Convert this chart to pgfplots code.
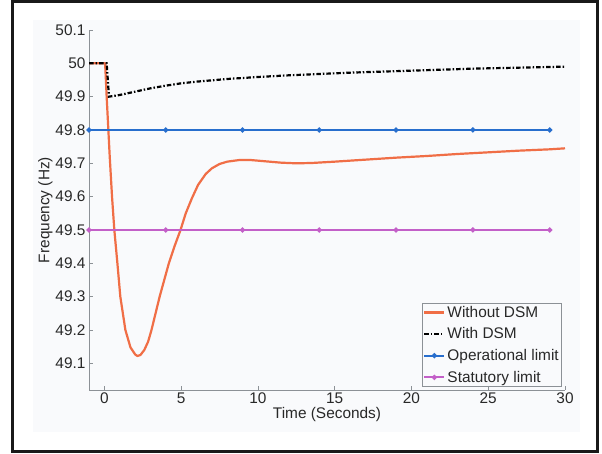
\documentclass[border=0pt]{standalone}
\usepackage{pgfplots}
\pgfplotsset{compat=1.18}
\usepackage{fontspec}
\setmainfont{Liberation Sans}
\definecolor{orangeline}{RGB}{240,110,70}
\definecolor{blueline}{RGB}{40,110,205}
\definecolor{magline}{RGB}{195,95,200}
\definecolor{panel}{RGB}{249,250,252}
\definecolor{axgray}{RGB}{140,145,150}
\definecolor{txt}{RGB}{40,40,40}
\begin{document}
\begin{tikzpicture}[x=1pt,y=1pt]
\useasboundingbox (0,0) rectangle (602,454);
\fill[white] (0,0) rectangle (602,454);
\fill[panel] (33,22) rectangle (580,434);
\draw[line width=3pt, black!90] (12.5,2.5) rectangle (597,452.5);
\begin{axis}[
  at={(89pt,64pt)}, anchor=south west,
  scale only axis, width=476pt, height=360pt,
  xmin=-1, xmax=30, ymin=49.02, ymax=50.1,
  axis x line*=bottom, axis y line*=left,
  axis line style={axgray, line width=0.8pt},
  tick style={axgray, line width=0.8pt},
  tick align=inside, major tick length=4pt,
  xtick={0,5,10,15,20,25,30},
  ytick={49.1,49.2,49.3,49.4,49.5,49.6,49.7,49.8,49.9,50,50.1},
  yticklabels={49.1,49.2,49.3,49.4,49.5,49.6,49.7,49.8,49.9,50,50.1},
  /pgf/number format/assume math mode=true,
  font=\fontsize{15.4}{18}\selectfont,
  tick label style={txt, font=\fontsize{15.4}{18}\selectfont},
  xticklabel style={yshift=1pt},
  xlabel={Time (Seconds)}, ylabel={Frequency (Hz)},
  label style={txt, font=\fontsize{15.4}{18}\selectfont},
  xlabel style={yshift=3pt},
  ylabel style={yshift=-4pt},
  legend cell align=left,
  legend style={at={(0.994,0.008)}, anchor=south east, draw=axgray, line width=0.8pt, fill=none,
    font=\fontsize{15.4}{17}\selectfont, text=txt, inner sep=1pt, row sep=5pt},
  legend image code/.code={\draw[mark repeat=2,mark phase=2,#1] plot coordinates {(0pt,0pt) (10pt,0pt) (20pt,0pt)};},
  clip=false,
]
\addplot[orangeline, line width=2.2pt, line join=round] coordinates {
(-1,50) (0.05,50) (0.15,49.9) (0.35,49.72) (0.5,49.6) (0.65,49.5) (0.85,49.4) (1.04,49.3)
(1.37,49.2) (1.7,49.148) (2.0,49.127) (2.15,49.122) (2.35,49.125) (2.6,49.14) (2.85,49.165)
(3.07,49.2) (3.6,49.3) (4.2,49.4) (4.6,49.455) (4.96,49.5) (5.3,49.55) (5.7,49.595)
(6.1,49.635) (6.6,49.668) (7.0,49.685) (7.5,49.698) (8.0,49.705) (8.8,49.71) (9.5,49.71)
(10.5,49.706) (11.5,49.702) (12.5,49.70) (13.5,49.701) (15,49.705) (17,49.711) (19,49.717)
(21,49.722) (23,49.728) (25,49.733) (27,49.738) (29,49.742) (30,49.745)};
\addlegendentry{Without DSM}
\addplot[black, line width=2.2pt, dash pattern=on 4.5pt off 2pt on 1.5pt off 2pt] coordinates {
(-1,50) (0.15,50) (0.3,49.9) (1,49.905) (2,49.915) (3,49.925) (4,49.933) (5,49.94)
(6,49.945) (8,49.953) (10,49.959) (12,49.964) (14,49.968) (16,49.972) (18,49.975)
(20,49.978) (22,49.981) (24,49.984) (26,49.986) (28,49.988) (30,49.99)};
\addlegendentry{With DSM}
\addplot[blueline, line width=1.8pt, mark=*, mark size=1.6pt] coordinates {
(-1,49.8) (4,49.8) (9,49.8) (14,49.8) (19,49.8) (24,49.8) (29,49.8)};
\addlegendentry{Operational limit}
\addplot[magline, line width=1.8pt, mark=*, mark size=1.6pt] coordinates {
(-1,49.5) (4,49.5) (9,49.5) (14,49.5) (19,49.5) (24,49.5) (29,49.5)};
\addlegendentry{Statutory limit}
\end{axis}
\end{tikzpicture}
\end{document}
